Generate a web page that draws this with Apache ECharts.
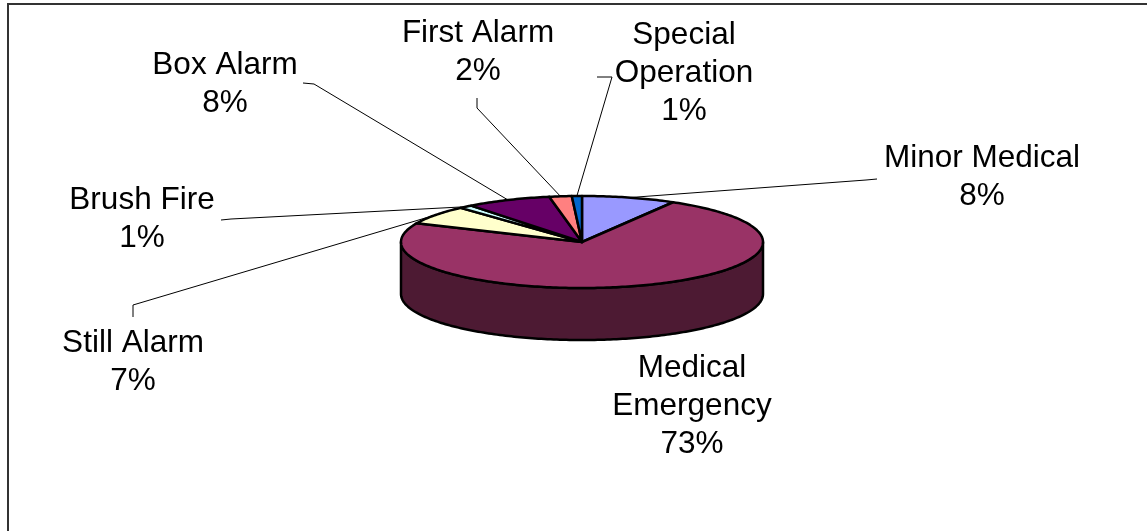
<!DOCTYPE html>
<html><head><meta charset="utf-8">
<script src="https://cdn.jsdelivr.net/npm/echarts@6/dist/echarts.min.js"></script>
<style>html,body{margin:0;padding:0;background:#fff}#c{width:1147px;height:531px}</style>
</head><body><div id="c"></div>
<script>
// ---- data ----
const categories = ['Minor Medical', 'Medical Emergency', 'Still Alarm', 'Brush Fire', 'Box Alarm', 'First Alarm', 'Special Operation'];
const values = [8.4, 73.3, 6.6, 1.2, 7.6, 2.0, 0.9];
// ---- styles / layout ----
const colors = ['#9999FF', '#993366', '#FFFFCC', '#CCFFFF', '#660066', '#FF8080', '#0066CC'];
const labelCenters = [[982, 158], [692, 368], [133, 343], [142, 200], [225, 65], [478, 33], [684, 35]];
const labelElbows = [[[877, 179], [866, 180]], null, [[133, 317], [133, 305]], [[221, 220], [231, 219]], [[303, 83], [314, 84]], [[477, 98], [477, 108]], [[597, 77], [612, 77]]];
const wrapLabel = [false, true, false, false, false, false, true];

const PIE = { cx: 582, cy: 242, rx: 181, ry: 46, depth: 52 };
const total = values.reduce((a, b) => a + b, 0);
const cum = []; values.reduce((a, v, i) => { cum[i] = a; return a + v; }, 0);

function shade(hex, f) {
  const n = parseInt(hex.slice(1), 16);
  const r = Math.round(((n >> 16) & 255) * f), g = Math.round(((n >> 8) & 255) * f), b = Math.round((n & 255) * f);
  return 'rgb(' + r + ',' + g + ',' + b + ')';
}
function pt(deg, dy) {
  const t = deg * Math.PI / 180;
  return [PIE.cx + PIE.rx * Math.cos(t), PIE.cy - PIE.ry * Math.sin(t) + (dy || 0)];
}
function arc(from, to, dy) {
  const pts = [];
  const n = Math.max(2, Math.ceil(Math.abs(from - to) / 1));
  for (let k = 0; k <= n; k++) pts.push(pt(from + (to - from) * k / n, dy));
  return pts;
}

function renderItem(params, api) {
  const i = params.dataIndex;
  const v = api.value(0);
  const a0 = 90 - 360 * cum[i] / total;
  const a1 = a0 - 360 * v / total;
  const children = [];
  for (const k of [-360, 0, 360]) {
    const lo = Math.max(a1, -180 + k), hi = Math.min(a0, 0 + k);
    if (hi > lo) {
      const top = arc(lo, hi, 0), bot = arc(hi, lo, PIE.depth);
      children.push({ type: 'polygon', z2: 1, shape: { points: top.concat(bot) },
        style: { fill: shade(colors[i], 0.5), stroke: '#000', lineWidth: 2.5, lineJoin: 'round' } });
    }
  }
  children.push({ type: 'polygon', z2: 2, shape: { points: [[PIE.cx, PIE.cy]].concat(arc(a0, a1, 0)) },
    style: { fill: colors[i], stroke: '#000', lineWidth: 2.5, lineJoin: 'round' } });
  if (labelElbows[i]) {
    const mid = pt((a0 + a1) / 2, 0);
    children.push({ type: 'polyline', z2: 0, shape: { points: [labelElbows[i][0], labelElbows[i][1], mid] },
      style: { stroke: '#000', lineWidth: 1, fill: null } });
  }
  const name = wrapLabel[i] ? categories[i].replace(' ', '\n') : categories[i];
  const pct = Math.round(v / total * 100) + '%';
  children.push({ type: 'text', z2: 3, x: labelCenters[i][0], y: labelCenters[i][1] - 19,
    style: { text: name + '\n' + pct, fill: '#000', align: 'center', verticalAlign: 'top',
      font: '31.5px "Liberation Sans", Arial, sans-serif', lineHeight: 38 } });
  return { type: 'group', children };
}

const chart = echarts.init(document.getElementById('c'), null, { renderer: 'canvas' });
chart.setOption({
  animation: false,
  backgroundColor: '#fff',
  graphic: [{ type: 'rect', shape: { x: 8, y: 4, width: 1200, height: 600 }, style: { fill: 'none', stroke: '#333', lineWidth: 2 }, z: -1 }],
  series: [{
    type: 'custom', coordinateSystem: 'none', renderItem,
    data: values.map((v, i) => ({ name: categories[i], value: [v] }))
  }]
});
</script></body></html>
